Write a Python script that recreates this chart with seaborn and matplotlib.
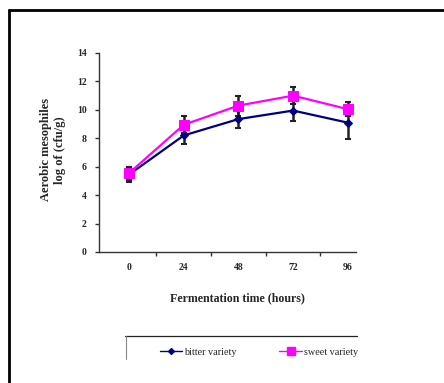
import numpy as np
import pandas as pd
import matplotlib
matplotlib.use("Agg")
import matplotlib.pyplot as plt
from matplotlib.lines import Line2D
import seaborn as sns

# Fermentation time points (hours)
hours = ["0", "24", "48", "72", "96"]

# Aerobic mesophile counts, log (cfu/g)
bitter = [5.45, 8.2, 9.35, 9.95, 9.1]
sweet = [5.55, 8.95, 10.3, 11.0, 10.05]

# Error bar half-widths
bitter_err = [0.5, 0.6, 0.65, 0.7, 1.15]
sweet_err = [0.45, 0.6, 0.7, 0.6, 0.5]

y_ticks = [0, 2, 4, 6, 8, 10, 12, 14]

sns.set_theme(style="white")
plt.rcParams["font.family"] = ["Liberation Serif", "DejaVu Serif"]

W, H = 444, 383
fig = plt.figure(figsize=(W / 100, H / 100), dpi=100)
fig.patch.set_facecolor("white")

ax = fig.add_axes([99 / W, 1 - 252 / H, (356 - 99) / W, (252 - 53) / H])

pos = np.arange(len(hours))
df = pd.DataFrame({
    "pos": np.concatenate([pos, pos]),
    "value": bitter + sweet,
    "variety": ["bitter variety"] * len(hours) + ["sweet variety"] * len(hours),
})

palette = {"bitter variety": "#000080", "sweet variety": "#ff00ff"}
markers = {"bitter variety": "D", "sweet variety": "s"}

# error bars underneath the lines
ax.errorbar(pos, bitter, yerr=bitter_err, fmt="none", ecolor="#222222",
            elinewidth=1.8, capsize=2.5, capthick=1.5, zorder=2)
ax.errorbar(pos, sweet, yerr=sweet_err, fmt="none", ecolor="#222222",
            elinewidth=1.8, capsize=2.5, capthick=1.5, zorder=2)

sns.lineplot(data=df, x="pos", y="value", hue="variety", style="variety",
             palette=palette, markers=markers, dashes=False, ax=ax,
             linewidth=1.6, legend=False, zorder=3)
for line, var in zip(ax.lines[-2:], ["bitter variety", "sweet variety"]):
    if var == "bitter variety":
        line.set_markersize(4)
    else:
        line.set_markersize(7)
    line.set_markeredgecolor(palette[var])

ax.set_xlim(-0.55, 4.15)
ax.set_ylim(0, 14)
ax.set_xticks(pos)
ax.set_xticklabels(hours)
ax.set_xticks([0.5, 1.5, 2.5, 3.5], minor=True)
ax.set_yticks(y_ticks)
ax.set_yticklabels([str(t) for t in y_ticks])

for s in ["top", "right"]:
    ax.spines[s].set_visible(False)
for s in ["left", "bottom"]:
    ax.spines[s].set_color("#333333")
    ax.spines[s].set_linewidth(1.0)

ax.tick_params(axis="x", which="major", length=0, pad=8, labelsize=7)
ax.tick_params(axis="x", which="minor", length=3, width=1, color="#333333",
               direction="out", bottom=True)
ax.tick_params(axis="y", length=3, width=1, color="#333333", direction="out",
               left=True, pad=6, labelsize=7)
for lab in ax.get_xticklabels() + ax.get_yticklabels():
    lab.set_fontweight("bold")

ax.set_xlabel("")
ax.set_ylabel("")
fig.text(53 / W, 1 - 150 / H, "Aerobic mesophiles\nlog of (cfu/g)", rotation=90,
         ha="center", va="center", fontsize=9, fontweight="bold",
         linespacing=1.2)
fig.text(237 / W, 1 - 298 / H, "Fermentation time (hours)", ha="center",
         va="center", fontsize=8.6, fontweight="bold")

# outer frame (top and left edges)
fig.add_artist(Line2D([8.5 / W, 1.0], [1 - 9.5 / H, 1 - 9.5 / H],
                      transform=fig.transFigure, color="black", linewidth=2))
fig.add_artist(Line2D([8.5 / W, 8.5 / W], [1 - 9.5 / H, 0],
                      transform=fig.transFigure, color="black", linewidth=2))

# legend box edges
fig.add_artist(Line2D([125 / W, 357 / W], [1 - 336 / H, 1 - 336 / H],
                      transform=fig.transFigure, color="#222222", linewidth=0.9))
fig.add_artist(Line2D([126 / W, 126 / W], [1 - 336 / H, 1 - 359 / H],
                      transform=fig.transFigure, color="#888888", linewidth=0.8))

handles = [
    Line2D([], [], color="#000080", marker="D", markersize=3, linewidth=1.0),
    Line2D([], [], color="#ff00ff", marker="s", markersize=6, linewidth=1.0),
]
fig.legend(handles, ["bitter variety", "sweet variety"], ncol=2,
           loc="center", bbox_to_anchor=(259 / W, 1 - 352 / H), frameon=False,
           fontsize=7.3, handlelength=2.2, handletextpad=0.2, columnspacing=4.2)

fig.savefig("out.png", dpi=100, facecolor="white")
